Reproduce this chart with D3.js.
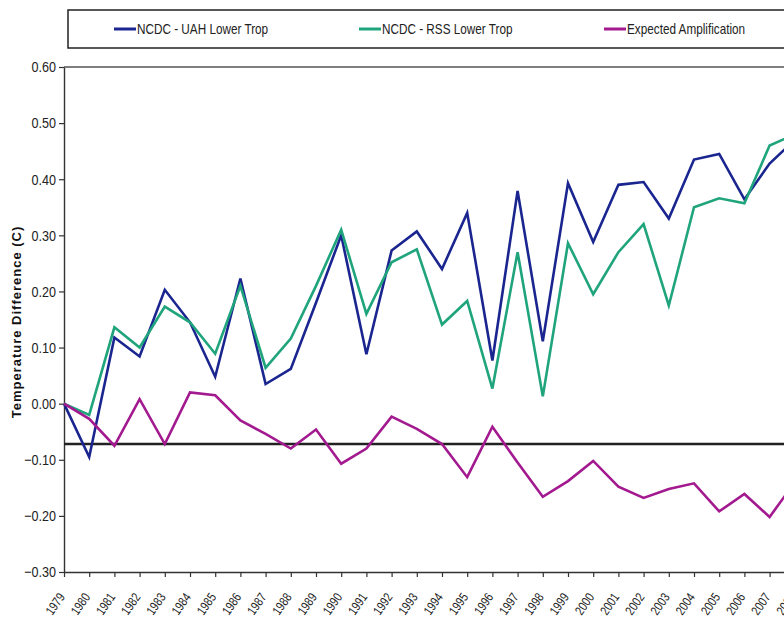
<!DOCTYPE html>
<html><head><meta charset="utf-8">
<script src="https://cdn.jsdelivr.net/npm/d3@7"></script>
<style>
html,body{margin:0;padding:0;background:#fff;overflow:hidden;}
svg{display:block;}
</style></head>
<body>
<svg id="chart" width="784" height="619"></svg>
<script>
const years = [1979,1980,1981,1982,1983,1984,1985,1986,1987,1988,1989,1990,1991,1992,1993,1994,1995,1996,1997,1998,1999,2000,2001,2002,2003,2004,2005,2006,2007,2008];
const uahDiff = [0.00,-0.095,0.118,0.084,0.203,0.145,0.048,0.223,0.035,0.062,0.18,0.30,0.088,0.273,0.307,0.24,0.34,0.077,0.379,0.111,0.393,0.288,0.39,0.395,0.33,0.435,0.445,0.364,0.428,0.47];
const rssDiff = [0.00,-0.02,0.136,0.10,0.173,0.145,0.089,0.21,0.064,0.116,0.21,0.31,0.16,0.252,0.275,0.141,0.183,0.027,0.27,0.013,0.286,0.195,0.27,0.32,0.175,0.35,0.366,0.357,0.46,0.48];
const expectedAmp = [0.00,-0.027,-0.075,0.008,-0.072,0.02,0.015,-0.03,-0.054,-0.08,-0.046,-0.107,-0.08,-0.023,-0.045,-0.072,-0.131,-0.041,-0.105,-0.166,-0.138,-0.102,-0.148,-0.168,-0.152,-0.142,-0.192,-0.161,-0.202,-0.14];
const refLine = -0.072;
const yTicks = [-0.30,-0.20,-0.10,0.00,0.10,0.20,0.30,0.40,0.50,0.60];
const seriesNames = ["NCDC - UAH Lower Trop","NCDC - RSS Lower Trop","Expected Amplification"];
const seriesColors = ["#1a2590","#1fa47c","#a3198f"];

const svg = d3.select("#chart");
const FONT = "'Liberation Sans',Arial,sans-serif";
const NARROW = 0.84;
const plotLeft = 64, plotTop = 67, plotBottom = 572, step = 25.2;
const x = d3.scaleLinear().domain([years[0], years[years.length-1]]).range([plotLeft, plotLeft + step*(years.length-1)]);
const y = d3.scaleLinear().domain([-0.30, 0.60]).range([plotBottom, plotTop]);

// plot area border (top visible)
svg.append("line").attr("x1", plotLeft).attr("x2", 900).attr("y1", plotTop).attr("y2", plotTop)
  .attr("stroke", "#555").attr("stroke-width", 1.3);

// Y axis
const yAxis = svg.append("g").attr("transform", `translate(${plotLeft},0)`)
  .call(d3.axisLeft(y).tickValues(yTicks).tickFormat(d3.format(".2f")).tickSize(5).tickSizeOuter(0));
yAxis.select(".domain").attr("stroke", "#333").attr("stroke-width", 1.4);
yAxis.selectAll(".tick line").attr("stroke", "#333").attr("stroke-width", 1.2);
yAxis.selectAll(".tick text").attr("font-family", FONT).attr("font-size", 15).attr("fill", "#222")
  .attr("x", null).attr("transform", `translate(-8,0) scale(${NARROW},1)`);

// X axis
const xAxis = svg.append("g").attr("transform", `translate(0,${plotBottom})`)
  .call(d3.axisBottom(x).tickValues(years).tickFormat(d3.format("d")).tickSize(5).tickSizeOuter(0));
xAxis.select(".domain").attr("stroke", "#333").attr("stroke-width", 1.6);
xAxis.selectAll(".tick line").attr("stroke", "#333").attr("stroke-width", 1.2);
xAxis.selectAll(".tick text")
  .attr("font-family", FONT).attr("font-size", 13).attr("fill", "#222")
  .attr("text-anchor", "end").attr("dy", null).attr("y", 0)
  .attr("transform", `translate(1,25) rotate(-55) scale(0.8,1)`);

// y-axis title
svg.append("text").attr("transform", "translate(21,322) rotate(-90)")
  .attr("text-anchor", "middle").attr("font-family", FONT)
  .attr("font-weight", "bold").attr("font-size", 13).attr("letter-spacing", 1).attr("fill", "#111")
  .text("Temperature Difference (C)");

// reference line
svg.append("line").attr("x1", plotLeft).attr("x2", 900).attr("y1", y(refLine)).attr("y2", y(refLine))
  .attr("stroke", "#222").attr("stroke-width", 2.4);

// series
const line = d3.line().x((d,i) => x(years[i])).y(d => y(d));
[uahDiff, rssDiff, expectedAmp].forEach((s, k) => {
  svg.append("path").datum(s).attr("d", line).attr("fill", "none")
    .attr("stroke", seriesColors[k]).attr("stroke-width", 2.6).attr("stroke-linejoin", "miter");
});

// legend
svg.append("rect").attr("x", 68).attr("y", 10).attr("width", 800).attr("height", 38)
  .attr("fill", "#fff").attr("stroke", "#222").attr("stroke-width", 1.5);
const legendX = [114, 359, 604];
seriesNames.forEach((n, k) => {
  svg.append("line").attr("x1", legendX[k]).attr("x2", legendX[k] + 22).attr("y1", 29).attr("y2", 29)
    .attr("stroke", seriesColors[k]).attr("stroke-width", 3);
  svg.append("text").attr("transform", `translate(${legendX[k] + 23},34) scale(${NARROW},1)`)
    .attr("font-family", FONT).attr("font-size", 14).attr("fill", "#222").text(n);
});
</script>
</body></html>
